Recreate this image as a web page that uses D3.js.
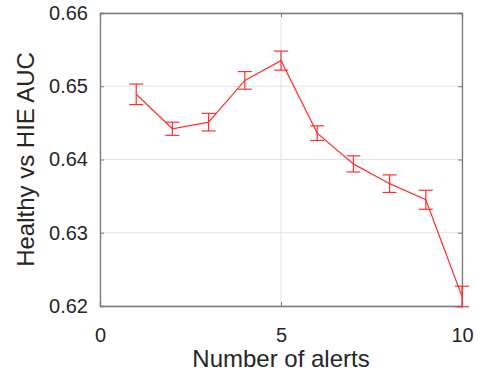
<!DOCTYPE html>
<html>
<head>
<meta charset="utf-8">
<script src="https://cdn.jsdelivr.net/npm/d3@7"></script>
<style>
  body { margin: 0; background: #fff; }
  text { font-family: "Liberation Sans", Arial, sans-serif; fill: #262626; }
</style>
</head>
<body>
<svg id="chart" width="478" height="377"></svg>
<script>
const alerts = [1, 2, 3, 4, 5, 6, 7, 8, 9, 10];
const auc = [0.6489, 0.6442, 0.6451, 0.6508, 0.6535, 0.6436, 0.6394, 0.6367, 0.6345, 0.6213];
const aucErr = [0.0014, 0.0009, 0.0012, 0.0012, 0.0013, 0.0010, 0.0011, 0.0012, 0.0013, 0.0014];
const xTicks = [0, 5, 10];
const yTicks = [0.62, 0.63, 0.64, 0.65, 0.66];

const svg = d3.select('#chart');
const margin = { top: 13, right: 16, bottom: 71, left: 100 };
const width = 478 - margin.left - margin.right;
const height = 377 - margin.top - margin.bottom;
const g = svg.append('g').attr('transform', `translate(${margin.left},${margin.top})`);

const x = d3.scaleLinear().domain([0, 10]).range([0, width]);
const y = d3.scaleLinear().domain([0.62, 0.66]).range([height, 0]);

// grid
g.selectAll('.gx').data(xTicks).enter().append('line')
  .attr('x1', d => x(d)).attr('x2', d => x(d))
  .attr('y1', 0).attr('y2', height)
  .attr('stroke', '#e3e3e3').attr('stroke-width', 1);
g.selectAll('.gy').data(yTicks).enter().append('line')
  .attr('x1', 0).attr('x2', width)
  .attr('y1', d => y(d)).attr('y2', d => y(d))
  .attr('stroke', '#e3e3e3').attr('stroke-width', 1);

// axes (inward ticks on all sides)
const axisColor = '#7a7a7a';
function styleAxis(sel) {
  sel.select('.domain').attr('stroke', axisColor);
  sel.selectAll('.tick line').attr('stroke', axisColor);
  sel.selectAll('.tick text').attr('font-size', '20px').attr('fill', '#262626')
    .style('font-family', '"Liberation Sans", Arial, sans-serif');
}
g.append('g').attr('transform', `translate(0,${height})`)
  .call(d3.axisBottom(x).tickValues(xTicks).tickSize(-4).tickPadding(22).tickFormat(d3.format('d')))
  .call(styleAxis);
g.append('g')
  .call(d3.axisLeft(y).tickValues(yTicks).tickSize(-4).tickPadding(12).tickFormat(d3.format('.2f')))
  .call(styleAxis);
g.append('g')
  .call(d3.axisTop(x).tickValues(xTicks).tickSize(-4).tickFormat(''))
  .call(styleAxis);
g.append('g').attr('transform', `translate(${width},0)`)
  .call(d3.axisRight(y).tickValues(yTicks).tickSize(-4).tickFormat(''))
  .call(styleAxis);
g.selectAll('.domain').attr('stroke-width', 1.3);

// line
const red = '#ff3030';
g.append('path').datum(alerts)
  .attr('fill', 'none').attr('stroke', red).attr('stroke-width', 1.2)
  .attr('d', d3.line().x(d => x(d)).y((d, i) => y(auc[i])));

// error bars
const cap = 7;
const eb = g.selectAll('.eb').data(alerts).enter().append('g')
  .attr('stroke', red).attr('stroke-width', 1.2).attr('fill', 'none');
eb.append('line')
  .attr('x1', d => x(d)).attr('x2', d => x(d))
  .attr('y1', (d, i) => y(auc[i] + aucErr[i])).attr('y2', (d, i) => y(auc[i] - aucErr[i]));
eb.append('line')
  .attr('x1', d => x(d) - cap).attr('x2', d => x(d) + cap)
  .attr('y1', (d, i) => y(auc[i] + aucErr[i])).attr('y2', (d, i) => y(auc[i] + aucErr[i]));
eb.append('line')
  .attr('x1', d => x(d) - cap).attr('x2', d => x(d) + cap)
  .attr('y1', (d, i) => y(auc[i] - aucErr[i])).attr('y2', (d, i) => y(auc[i] - aucErr[i]));

// labels
svg.append('text')
  .attr('x', margin.left + width / 2).attr('y', 367)
  .attr('text-anchor', 'middle').attr('font-size', '24px')
  .text('Number of alerts');
svg.append('text')
  .attr('transform', `translate(34,${margin.top + height / 2}) rotate(-90)`)
  .attr('text-anchor', 'middle').attr('font-size', '24px')
  .text('Healthy vs HIE AUC');
</script>
</body>
</html>
